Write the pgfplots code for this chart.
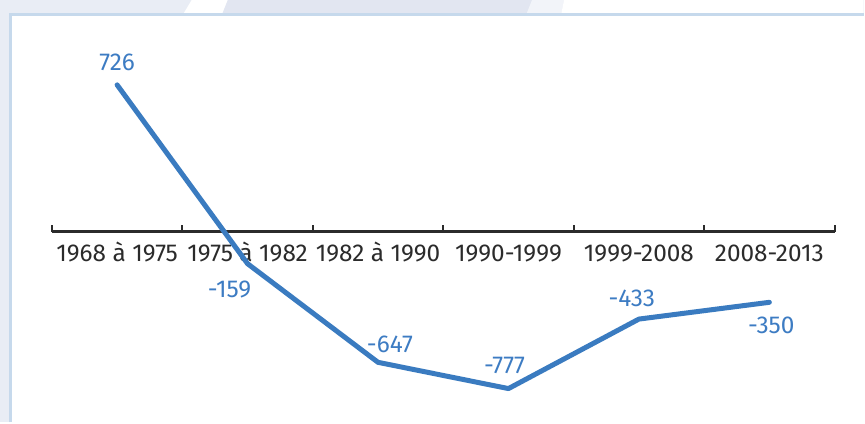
\documentclass[border=0pt]{standalone}
\usepackage{pgfplots}
\pgfplotsset{compat=1.18}
\usepackage{fontspec}
\setmainfont{Fira Sans}
\definecolor{bgout}{HTML}{E9EDF5}
\definecolor{bgdark}{HTML}{E2E6F1}
\definecolor{bglight}{HTML}{F2F4F9}
\definecolor{frameblue}{HTML}{C6D9EC}
\definecolor{lineblue}{HTML}{3A7BC0}
\definecolor{labelblue}{HTML}{3D7CC3}
\definecolor{axisgray}{HTML}{2B2B2B}
\begin{document}
\begin{tikzpicture}[x=1bp,y=1bp]
\fill[bgout] (0,0) rectangle (865,423);
\fill[bgdark] (222,408) -- (527,408) -- (533,423) -- (228,423) -- cycle;
\fill[white] (183,408) -- (222,408) -- (228,423) -- (192,423) -- cycle;
\fill[bglight] (527,408) -- (562,408) -- (565,423) -- (533,423) -- cycle;
\fill[white] (562,408) -- (865,408) -- (865,423) -- (565,423) -- cycle;
\fill[white] (11,0) rectangle (865,408);
\draw[frameblue, line width=3bp] (11,0) -- (11,408) -- (865,408);
\begin{axis}[
  at={(52bp,0bp)}, anchor=south west,
  width=784bp, height=423bp, scale only axis,
  xmin=-0.5, xmax=5.5, ymin=-943.7, ymax=1146.2,
  axis x line*=middle, axis y line=none,
  x axis line style={axisgray, line width=2.5bp},
  xtick={0,1,2,3,4,5},
  xticklabels={1968 à 1975,1975 à 1982,1982 à 1990,1990-1999,1999-2008,2008-2013},
  major x tick style={draw=none},
  minor xtick={-0.5,0.5,1.5,2.5,3.5,4.5,5.5},
  minor tick length=7bp,
  tick align=inside,
  minor x tick style={axisgray, line width=2bp},
  xticklabel style={font=\fontsize{24.5}{24.5}\selectfont, text=axisgray, anchor=base, yshift=-30bp, inner sep=0pt},
  clip=false,
]
\addplot[lineblue, line width=5bp, line cap=round, line join=round,
  point meta=explicit symbolic,
  visualization depends on={\thisrow{dx} \as \dx},
  visualization depends on={\thisrow{dy} \as \dy},
  nodes near coords={\pgfplotspointmeta},
  every node near coord/.append style={font=\fontsize{24.5}{24.5}\selectfont, text=labelblue, anchor=base, inner sep=0pt, xshift={\dx*1bp}, yshift={\dy*1bp}},
] table[x=x, y=y, meta=lab] {
x y dx dy lab
0 726 0 14 726
1 -159 -18 -34 -159
2 -647 12 10 -647
3 -777 -4 15 -777
4 -433 -7 13 -433
5 -350 2 -31 -350
};
\end{axis}
\end{tikzpicture}
\end{document}
